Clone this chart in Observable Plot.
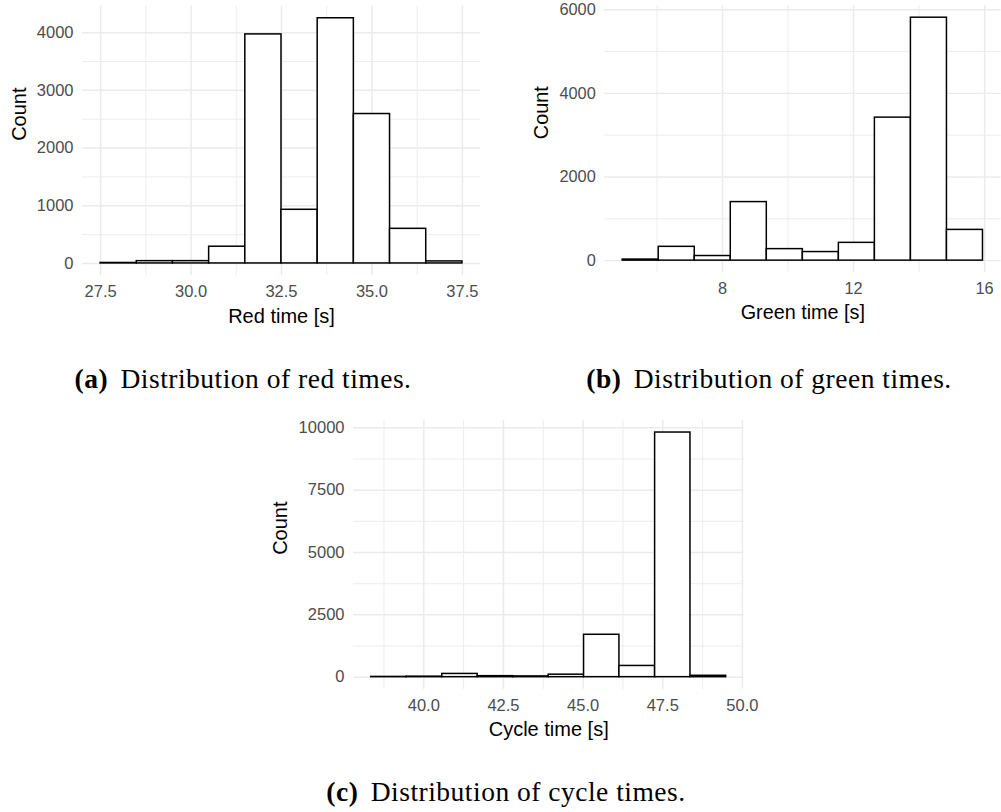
<!DOCTYPE html>
<html>
<head>
<meta charset="utf-8">
<script src="https://cdn.jsdelivr.net/npm/d3@7"></script>
<script src="https://cdn.jsdelivr.net/npm/@observablehq/plot@0.6"></script>
<style>
  html, body { margin: 0; padding: 0; background: #fff; }
  body { width: 1001px; height: 812px; overflow: hidden; position: relative; }
  .panel { position: absolute; overflow: hidden; }
  #captions { position: absolute; left: 0; top: 0; }
</style>
</head>
<body>
<div id="pa" class="panel" style="left:0px;top:0px;width:500px;height:340px"></div>
<div id="pb" class="panel" style="left:500px;top:0px;width:501px;height:340px"></div>
<div id="pc" class="panel" style="left:260px;top:400px;width:510px;height:350px"></div>
<svg id="captions" width="1001" height="812"></svg>
<script>
// ---------- data ----------
const redEdges = [27.5, 28.5, 29.5, 30.5, 31.5, 32.5, 33.5, 34.5, 35.5, 36.5, 37.5];
const redCounts = [8, 40, 40, 290, 3970, 930, 4250, 2590, 600, 35];
const redXTicks = [27.5, 30, 32.5, 35, 37.5];
const redXMinor = [28.75, 31.25, 33.75, 36.25];
const redYTicks = [0, 1000, 2000, 3000, 4000];
const redYMinor = [500, 1500, 2500, 3500];

const greenEdges = [4.95, 6.05, 7.15, 8.25, 9.35, 10.45, 11.55, 12.65, 13.75, 14.85, 15.95];
const greenCounts = [25, 330, 110, 1400, 275, 205, 425, 3420, 5810, 735];
const greenXTicks = [8, 12, 16];
const greenXMinor = [6, 10, 14];
const greenYTicks = [0, 2000, 4000, 6000];
const greenYMinor = [1000, 3000, 5000];

const cycleEdges = [38.35, 39.46, 40.58, 41.69, 42.81, 43.92, 45.03, 46.14, 47.26, 48.37, 49.49];
const cycleCounts = [10, 20, 130, 40, 30, 100, 1700, 450, 9810, 55];
const cycleXTicks = [40, 42.5, 45, 47.5, 50];
const cycleXMinor = [38.75, 41.25, 43.75, 46.25, 48.75];
const cycleYTicks = [0, 2500, 5000, 7500, 10000];
const cycleYMinor = [1250, 3750, 6250, 8750];

const xTitles = ["Red time [s]", "Green time [s]", "Cycle time [s]"];
const yTitle = "Count";
const captionLabels = ["(a)", "(b)", "(c)"];
const captionTexts = ["Distribution of red times.", "Distribution of green times.", "Distribution of cycle times."];

// ---------- helpers ----------
function bins(edges, counts) {
  return counts.map((c, i) => ({x1: edges[i], x2: edges[i + 1], count: c}));
}
function expand(lo, hi) {
  const d = (hi - lo) * 0.05;
  return [lo - d, hi + d];
}

function histogram(o) {
  const data = bins(o.edges, o.counts);
  const xDom = expand(o.edges[0], o.edges[o.edges.length - 1]);
  const yDom = expand(0, d3.max(o.counts));
  return Plot.plot({
    width: o.width,
    height: o.height,
    marginLeft: o.ml,
    marginRight: o.mr,
    marginTop: o.mt,
    marginBottom: o.mb,
    x: {domain: xDom},
    y: {domain: yDom},
    style: {fontFamily: "'Liberation Sans', Arial, sans-serif", background: "transparent", overflow: "hidden"},
    marks: [
      Plot.ruleX(o.xMinor, {stroke: "#ebebeb", strokeWidth: 0.9}),
      Plot.ruleY(o.yMinor, {stroke: "#ebebeb", strokeWidth: 0.9}),
      Plot.ruleX(o.xTicks, {stroke: "#ebebeb", strokeWidth: 1.5}),
      Plot.ruleY(o.yTicks, {stroke: "#ebebeb", strokeWidth: 1.5}),
      Plot.rect(data, {x1: "x1", x2: "x2", y1: () => 0, y2: "count", fill: "white", stroke: "black", strokeWidth: 1.5}),
      Plot.axisX(o.xTicks, {tickSize: 0, tickPadding: 10, fontSize: 16.5, color: "#4d4d4d", label: null, tickFormat: o.xFormat}),
      Plot.axisY(o.yTicks, {tickSize: 0, tickPadding: 9, fontSize: 16.5, color: "#4d4d4d", label: null, tickFormat: d => String(d)}),
      Plot.text([o.xTitle], {text: d => d, frameAnchor: "bottom", dy: 47, lineAnchor: "bottom", fontSize: 20, fill: "black"}),
      Plot.text([yTitle], {text: d => d, frameAnchor: "left", rotate: -90, dx: o.yTitleDx, lineAnchor: "bottom", fontSize: 20, fill: "black"})
    ]
  });
}

document.getElementById("pa").append(histogram({
  edges: redEdges, counts: redCounts,
  xTicks: redXTicks, xMinor: redXMinor, yTicks: redYTicks, yMinor: redYMinor,
  xFormat: d3.format(".1f"), xTitle: xTitles[0], yTitleDx: -57,
  width: 500, height: 340, ml: 82, mr: 20, mt: 5.5, mb: 340 - 275.2
}));

document.getElementById("pb").append(histogram({
  edges: greenEdges, counts: greenCounts,
  xTicks: greenXTicks, xMinor: greenXMinor, yTicks: greenYTicks, yMinor: greenYMinor,
  xFormat: d => String(d), xTitle: xTitles[1], yTitleDx: -57,
  width: 506, height: 340, ml: 105.2, mr: 0.5, mt: 5.1, mb: 340 - 275
}));

document.getElementById("pc").append(histogram({
  edges: cycleEdges, counts: cycleCounts,
  xTicks: cycleXTicks, xMinor: cycleXMinor, yTicks: cycleYTicks, yMinor: cycleYMinor,
  xFormat: d3.format(".1f"), xTitle: xTitles[2], yTitleDx: -67,
  width: 510, height: 350, ml: 93, mr: 26.6, mt: 19.8, mb: 350 - 288.9
}));

// ---------- captions ----------
const capPos = [[243, 388], [769, 388], [506, 801]];
const svg = d3.select("#captions");
captionTexts.forEach((t, i) => {
  const txt = svg.append("text")
    .attr("x", capPos[i][0]).attr("y", capPos[i][1])
    .attr("text-anchor", "middle")
    .attr("font-family", "'Liberation Serif', 'DejaVu Serif', serif")
    .attr("font-size", 27.5)
    .attr("letter-spacing", 0.5)
    .attr("fill", "#000");
  txt.append("tspan").attr("font-weight", "bold").text(captionLabels[i]);
  txt.append("tspan").attr("dx", 5).text(" " + t);
});
</script>
</body>
</html>
